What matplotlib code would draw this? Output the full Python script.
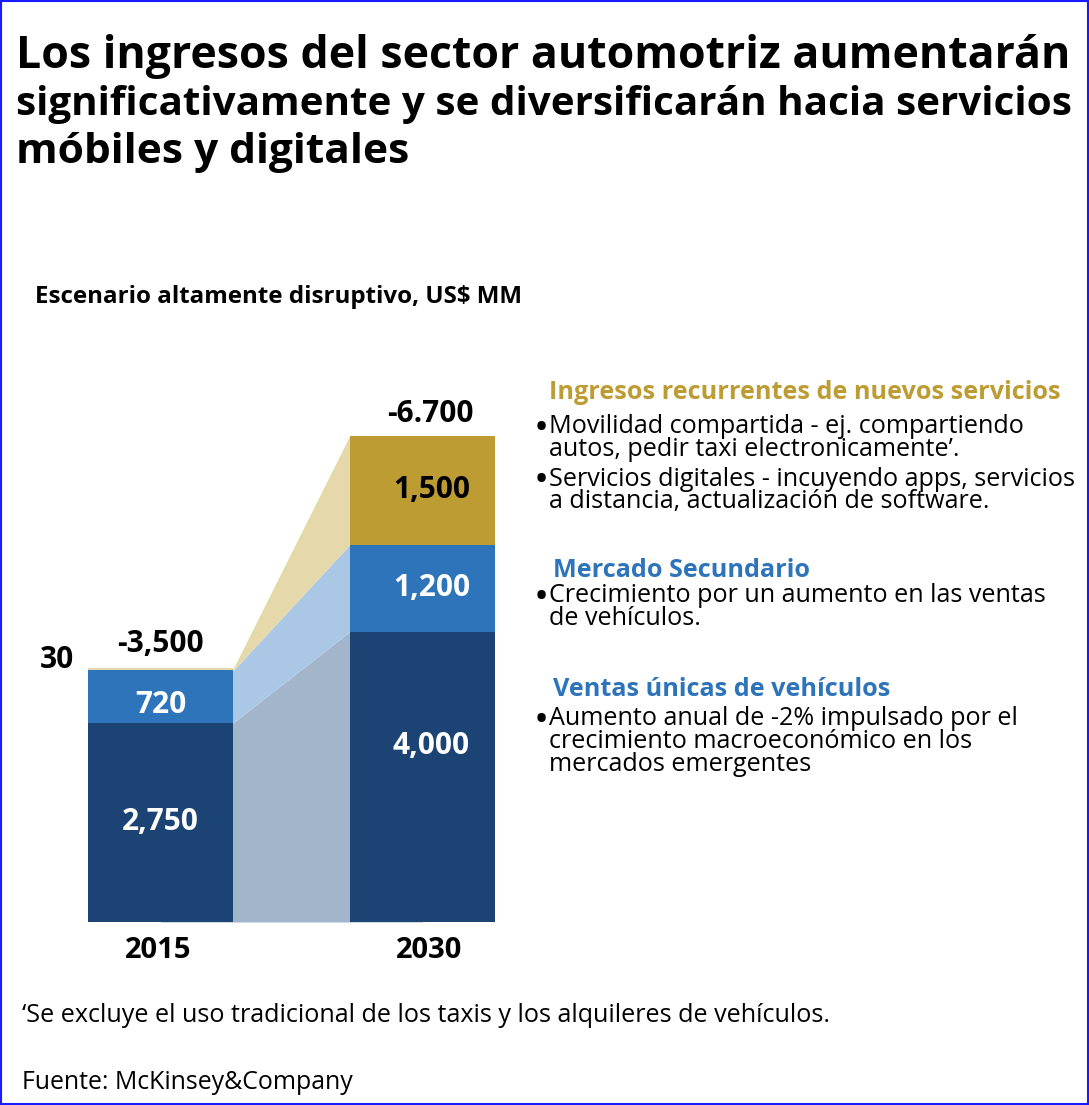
import matplotlib
matplotlib.use("Agg")
import numpy as np
import matplotlib.pyplot as plt
from matplotlib.patches import Rectangle

plt.rcParams['font.family'] = ['Open Sans', 'DejaVu Sans']

W, H = 1089, 1105

# data
years = ['2015', '2030']
ventas = [2750, 4000]
mercado = [720, 1200]
servicios = [30, 1500]
totales = ['-3,500', '-6.700']
seg_labels = [['2,750', '720', '30'], ['4,000', '1,200', '1,500']]

title_lines = ['Los ingresos del sector automotriz aumentarán',
               'significativamente y se diversificarán hacia servicios',
               'móbiles y digitales']
subtitle = 'Escenario altamente disruptivo, US$ MM'
nota = '‘Se excluye el uso tradicional de los taxis y los alquileres de vehículos.'
fuente = 'Fuente: McKinsey&Company'

bloques = [
    ('Ingresos recurrentes de nuevos servicios', '#bd9c33',
     [['Movilidad compartida - ej. compartiendo', 'autos, pedir taxi electronicamente’.'],
      ['Servicios digitales - incuyendo apps, servicios', 'a distancia, actualización de software.']]),
    ('Mercado Secundario', '#2e74ba',
     [['Crecimiento por un aumento en las ventas', 'de vehículos.']]),
    ('Ventas únicas de vehículos', '#2e74ba',
     [['Aumento anual de -2% impulsado por el', 'crecimiento macroeconómico en los',
       'mercados emergentes']]),
]

c_dark, c_mid, c_gold = '#1b4373', '#2e74ba', '#bd9c33'
c_dark_l, c_mid_l, c_gold_l = '#a3b5ca', '#aac8e6', '#e5d8aa'


def fx(x):
    return x / W


def fy(y):
    return 1 - y / H


fig = plt.figure(figsize=(W / 100, H / 100), dpi=100)
fig.patch.set_facecolor('white')
fig.patches.append(Rectangle((0.001, 0.001), 0.998, 0.998, transform=fig.transFigure,
                             fill=False, edgecolor='#1a1aff', linewidth=1.5))
renderer = fig.canvas.get_renderer()


def fit_text(x, y, s, width_px, fs, **kw):
    # shrink/grow the font so the line takes the width it has in the original
    t = fig.text(fx(x), fy(y), s, fontsize=fs, va='baseline', **kw)
    wd = t.get_window_extent(renderer).width
    t.set_fontsize(fs * width_px / wd)
    return t


# title
title_w = [1056, 1059, 394]
for i, line in enumerate(title_lines):
    fit_text(16, 68 + i * 47.5, line, title_w[i], 32, fontweight='bold')
fig.text(fx(35), fy(303), subtitle, fontsize=17.4, fontweight='bold', va='baseline')

# chart
w = 0.556
ax = fig.add_axes([fx(88), fy(922), (495 - 88) / W, (922 - 436) / H])
x = np.arange(len(years))
b1 = np.array(ventas)
b2 = b1 + np.array(mercado)
b3 = b2 + np.array(servicios)
ax.set_xlim(-w / 2, 1 + w / 2)
ax.set_ylim(0, b3[-1])
ax.axis('off')

# connecting bands (start under the bars so no seam shows)
xb = [x[0], x[0] + w / 2, x[1] - w / 2, x[1]]


def band(lo, hi):
    return [lo[0], lo[0], lo[1], lo[1]], [hi[0], hi[0], hi[1], hi[1]]


zero = np.zeros(2)
for lo, hi, c in [(zero, b1, c_dark_l), (b1, b2, c_mid_l), (b2, b3, c_gold_l)]:
    ylo, yhi = band(lo, hi)
    ax.fill_between(xb, ylo, yhi, color=c, linewidth=0)

ax.bar(x, ventas, width=w, color=c_dark, linewidth=0)
ax.bar(x, mercado, width=w, bottom=b1, color=c_mid, linewidth=0)
ax.bar(x, servicios, width=w, bottom=b2, color=[c_gold_l, c_gold], linewidth=0)

lab_kw = dict(fontsize=21.5, fontweight='bold', ha='center', va='center')
nudge = [[0, -120, 110], [420, 0, 0]]  # small vertical nudges, data units
for i in range(2):
    mids = [b1[i] / 2, (b1[i] + b2[i]) / 2, (b2[i] + b3[i]) / 2]
    cols = ['white', 'white', 'black']
    for j in range(3):
        if i == 0 and j == 2:
            ax.text(x[i] - w / 2 - 0.053, b3[i] + nudge[i][j], seg_labels[i][j],
                    ha='right', va='center', fontsize=21.5, fontweight='bold',
                    clip_on=False)
            continue
        xo = 0.035 if i == 1 else 0
        ax.text(x[i] + xo, mids[j] + nudge[i][j], seg_labels[i][j], color=cols[j],
                **lab_kw)
    ax.text(x[i] + (0.03 if i == 1 else 0.0), b3[i] + (90 if i == 1 else 130),
            totales[i], ha='center', va='bottom', fontsize=21.5, fontweight='bold',
            clip_on=False)
    ax.text(x[i] + (0.025 if i == 1 else -0.01), -190, years[i], ha='center', va='top',
            fontsize=21, fontweight='bold', clip_on=False)

# right column text
head_y = [399, 577, 696]
head_x = [549, 553, 553]
gap = [34, 25, 29]
for (head, col, items), hy, hx, g in zip(bloques, head_y, head_x, gap):
    fig.text(fx(hx), fy(hy), head, fontsize=18.2, fontweight='bold', color=col,
             va='baseline')
    y = hy + g
    for item in items:
        fig.text(fx(541.5), fy(y - 3.5), '•', fontsize=29, va='center', ha='center')
        for line in item:
            fig.text(fx(549), fy(y), line, fontsize=18.1, va='baseline')
            y += 22.8
        y += 7

fig.text(fx(22), fy(1022), nota, fontsize=18.1, va='baseline')
fig.text(fx(22), fy(1089), fuente, fontsize=17.9, va='baseline')

fig.savefig('out.png', dpi=100, facecolor='white')
